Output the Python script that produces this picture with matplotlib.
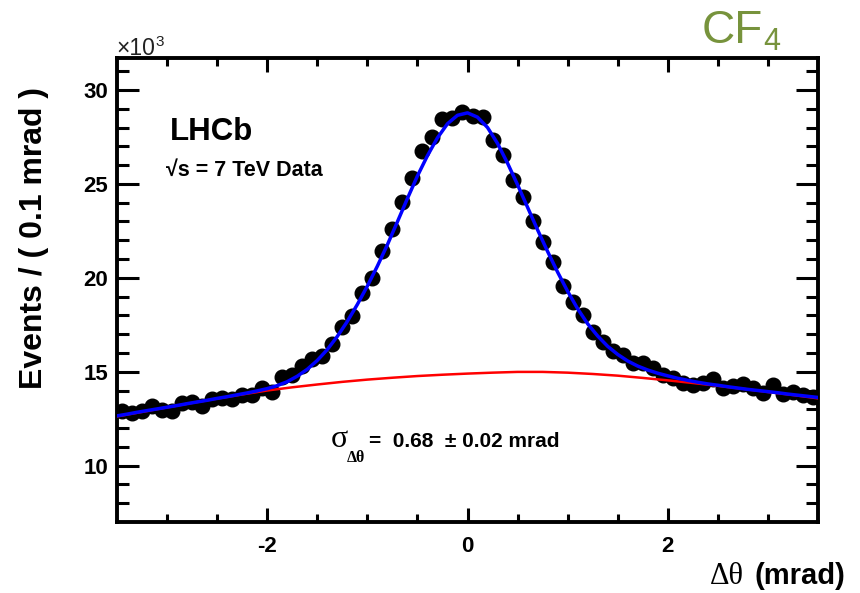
import numpy as np
import matplotlib
matplotlib.use("Agg")
import matplotlib.pyplot as plt

plt.rcParams['axes.unicode_minus'] = False

# ---------------- data (values in units of 10^3 events) ----------------
bin_edges = np.linspace(-3.5, 3.5, 71)
bin_centers = 0.5 * (bin_edges[:-1] + bin_edges[1:])

events = [
    12.9, 12.8, 12.9, 13.15, 12.95, 12.9, 13.35, 13.4, 13.2, 13.55,
    13.6, 13.55, 13.75, 13.75, 14.15, 13.9, 14.7, 14.8, 15.3, 15.7,
    15.85, 16.5, 17.4, 17.95, 19.2, 20.0, 21.4, 22.6, 24.05, 25.3,
    26.75, 27.5, 28.45, 28.5, 28.8, 28.6, 28.55, 27.35, 26.55, 25.2,
    24.3, 23.0, 21.9, 20.85, 19.55, 18.7, 18.0, 17.13, 16.6, 16.1,
    15.9, 15.45, 15.45, 15.2, 14.83, 14.65, 14.4, 14.3, 14.38, 14.6,
    14.15, 14.25, 14.35, 14.12, 13.85, 14.3, 13.8, 13.92, 13.75, 13.65,
]

# total fit (blue), sampled every 0.1 mrad
fit_x = np.linspace(-3.5, 3.5, 71)
fit_total = [
    12.65, 12.74, 12.84, 12.93, 13.02, 13.11, 13.2, 13.3, 13.39, 13.48,
    13.58, 13.67, 13.77, 13.87, 13.98, 14.1, 14.26, 14.47, 14.76, 15.13,
    15.6, 16.18, 16.88, 17.68, 18.58, 19.56, 20.62, 21.76, 22.98, 24.22,
    25.42, 26.5, 27.45, 28.2, 28.65, 28.78, 28.55, 28.0, 27.15, 26.1,
    24.95, 23.75, 22.55, 21.4, 20.3, 19.28, 18.35, 17.55, 16.9, 16.35,
    15.92, 15.57, 15.3, 15.09, 14.92, 14.78, 14.65, 14.54, 14.44, 14.35,
    14.28, 14.2, 14.13, 14.06, 14.0, 13.94, 13.88, 13.81, 13.75, 13.69,
    13.63,
]

# background component (red), sampled every 0.25 mrad
bkg_x = np.linspace(-3.5, 3.5, 29)
bkg = [
    12.62, 12.86, 13.1, 13.34, 13.57, 13.79, 14.0, 14.17, 14.32, 14.46,
    14.58, 14.68, 14.77, 14.84, 14.9, 14.95, 14.99, 14.99, 14.95, 14.88,
    14.79, 14.67, 14.54, 14.4, 14.25, 14.09, 13.92, 13.76, 13.58,
]

sigma_text = "=  0.68  \u00b1 0.02 mrad"

# ---------------- figure ----------------
W, H = 860, 593
fig = plt.figure(figsize=(W / 100, H / 100), dpi=100)
L, R, T, B = 117, 818, 58, 522
ax = fig.add_axes([L / W, 1 - B / H, (R - L) / W, (B - T) / H])

sans = ['Liberation Sans', 'DejaVu Sans']
serif = ['Liberation Serif', 'DejaVu Serif']

ax.plot(bin_centers, events, 'o', color='black', ms=10.5, zorder=2)
ax.plot(bkg_x, bkg, '-', color='#ff0000', lw=1.8, zorder=3)
ax.plot(fit_x, fit_total, '-', color='#0000ff', lw=2.5, zorder=4)

ax.set_xlim(-3.5, 3.5)
ax.set_ylim(7, 31.7)
ax.set_xticks([-2, 0, 2])
ax.set_xticks(np.arange(-3.0, 3.01, 0.5), minor=True)
ax.set_yticks([10, 15, 20, 25, 30])
ax.set_yticks(np.arange(8, 32, 1), minor=True)

for s in ax.spines.values():
    s.set_linewidth(2.8)
ax.tick_params(which='both', direction='in', top=True, right=True, width=2.2)
ax.tick_params(axis='y', which='major', length=15.5, pad=6.5)
ax.tick_params(axis='y', which='minor', length=8.5)
ax.tick_params(axis='x', which='major', length=10, pad=10)
ax.tick_params(axis='x', which='minor', length=6)
for lab in ax.get_xticklabels() + ax.get_yticklabels():
    lab.set_fontfamily(sans)
    lab.set_fontweight('bold')
    lab.set_fontsize(16)


def fx(px):
    return px / W


def fy(py):
    return 1 - py / H


# labels
fig.text(fx(34), fy(238), "Events / ( 0.1 mrad )", rotation=90, ha='center', va='center',
         fontsize=23, fontweight='bold', family=sans)
fig.text(fx(845), fy(584), "(mrad)", ha='right', va='baseline',
         fontsize=21, fontweight='bold', family=sans)
fig.text(fx(744), fy(584), "\u0394\u03b8", ha='right', va='baseline',
         fontsize=22, family=serif)

# x10^3
fig.text(fx(116), fy(55), "\u00d710", ha='left', va='baseline', fontsize=16.5,
         family=sans, color='#222222')
fig.text(fx(155), fy(46), "3", ha='left', va='baseline', fontsize=11,
         family=sans, color='#222222')

# CF4
fig.text(fx(702), fy(43), "CF", ha='left', va='baseline', fontsize=33,
         family=sans, color='#77933C')
fig.text(fx(763), fy(50), "4", ha='left', va='baseline', fontsize=22,
         family=sans, color='#77933C')

# LHCb annotations
fig.text(fx(170), fy(140), "LHCb", ha='left', va='baseline', fontsize=22.5,
         fontweight='bold', family=sans)
fig.text(fx(166), fy(176), "\u221as = 7 TeV Data", ha='left', va='baseline', fontsize=15.5,
         fontweight='bold', family=sans)

# sigma annotation
fig.text(fx(331), fy(447), "\u03c3", ha='left', va='baseline', fontsize=23, family=serif)
fig.text(fx(347), fy(462), "\u0394\u03b8", ha='left', va='baseline', fontsize=11.5,
         fontweight='bold', family=serif)
fig.text(fx(369), fy(447), sigma_text, ha='left', va='baseline', fontsize=15,
         fontweight='bold', family=sans)

fig.savefig("out.png", dpi=100)
